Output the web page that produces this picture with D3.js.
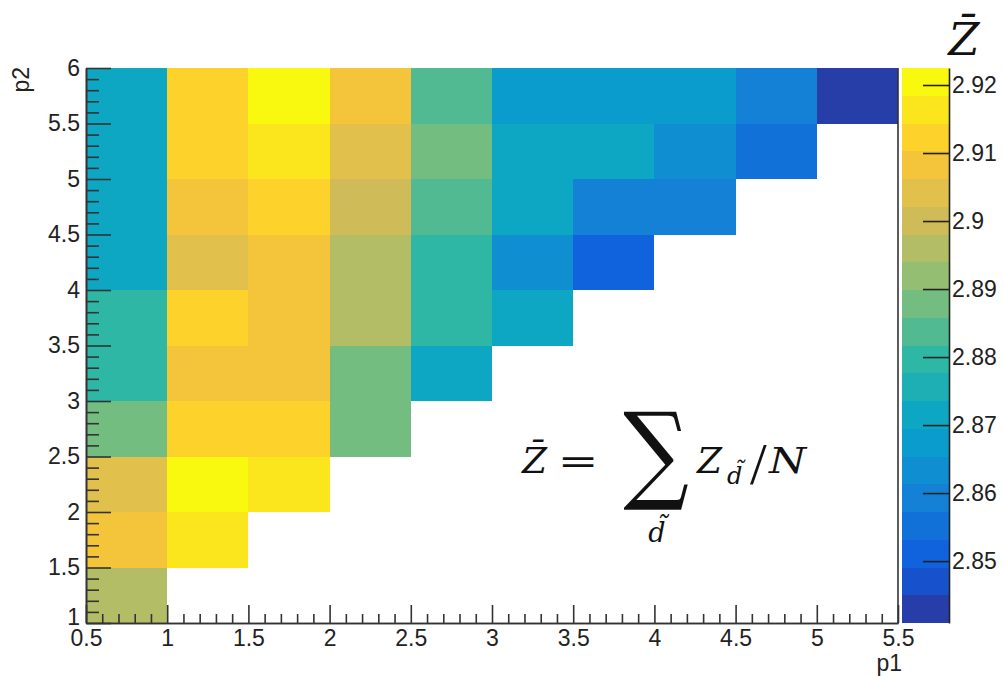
<!DOCTYPE html>
<html><head><meta charset="utf-8">
<script src="https://cdn.jsdelivr.net/npm/d3@7/dist/d3.min.js"></script>
<style>
body{margin:0;background:#fff}
svg{display:block}
.tick text{font-family:"Liberation Sans",Arial,Helvetica,sans-serif;font-size:23px;fill:#222}
</style>
</head><body>
<svg id="chart" width="1003" height="676"></svg>
<script>
// ---- data ----
const p1Bins = [0.75, 1.25, 1.75, 2.25, 2.75, 3.25, 3.75, 4.25, 4.75, 5.25];
const p2Bins = [1.25, 1.75, 2.25, 2.75, 3.25, 3.75, 4.25, 4.75, 5.25, 5.75];
// mean Z per bin, one array per p1 column, listed from p2 = 1.25 up to 5.75 (null = empty)
const zP1_0_75 = [2.8960, 2.9082, 2.9041, 2.8878, 2.8797, 2.8797, 2.8715, 2.8715, 2.8715, 2.8715];
const zP1_1_25 = [null, 2.9164, 2.9205, 2.9123, 2.9082, 2.9123, 2.9041, 2.9082, 2.9123, 2.9123];
const zP1_1_75 = [null, null, 2.9164, 2.9123, 2.9082, 2.9082, 2.9082, 2.9123, 2.9164, 2.9225];
const zP1_2_25 = [null, null, null, 2.8878, 2.8878, 2.8960, 2.8960, 2.9001, 2.9041, 2.9082];
const zP1_2_75 = [null, null, null, null, 2.8715, 2.8797, 2.8797, 2.8837, 2.8878, 2.8837];
const zP1_3_25 = [null, null, null, null, null, 2.8715, 2.8633, 2.8715, 2.8715, 2.8674];
const zP1_3_75 = [null, null, null, null, null, null, 2.8511, 2.8593, 2.8715, 2.8674];
const zP1_4_25 = [null, null, null, null, null, null, null, 2.8593, 2.8633, 2.8674];
const zP1_4_75 = [null, null, null, null, null, null, null, null, 2.8552, 2.8593];
const zP1_5_25 = [null, null, null, null, null, null, null, null, null, 2.8409];
const zColumns = [zP1_0_75, zP1_1_25, zP1_1_75, zP1_2_25, zP1_2_75, zP1_3_25, zP1_3_75, zP1_4_25, zP1_4_75, zP1_5_25];
const xTicks = [0.5, 1, 1.5, 2, 2.5, 3, 3.5, 4, 4.5, 5, 5.5];
const yTicks = [1, 1.5, 2, 2.5, 3, 3.5, 4, 4.5, 5, 5.5, 6];
const zTicks = [2.85, 2.86, 2.87, 2.88, 2.89, 2.9, 2.91, 2.92];
const nContours = 20;
const binHalf = 0.25;

// ---- palette (ROOT kBird) ----
const birdStops = [0, 0.125, 0.25, 0.375, 0.5, 0.625, 0.75, 0.875, 1];
const birdR = [0.2082, 0.0592, 0.0780, 0.0232, 0.1802, 0.5301, 0.8186, 0.9956, 0.9764];
const birdG = [0.1664, 0.3599, 0.5041, 0.6419, 0.7178, 0.7492, 0.7328, 0.7862, 0.9832];
const birdB = [0.5293, 0.8684, 0.8385, 0.7914, 0.6425, 0.4662, 0.3499, 0.1968, 0.0539];
function bird(p) {
  const r = d3.scaleLinear(birdStops, birdR).clamp(true)(p);
  const g = d3.scaleLinear(birdStops, birdG).clamp(true)(p);
  const b = d3.scaleLinear(birdStops, birdB).clamp(true)(p);
  return d3.rgb(r * 255, g * 255, b * 255).formatHex();
}
const bandColors = d3.range(nContours).map(i => bird(Math.floor((i + 0.99) * 255 / nContours) / 255));

// ---- layout ----
const svg = d3.select("#chart");
const L = 86, R = 898, T = 68, B = 623;
const x = d3.scaleLinear([0.5, 5.5], [L, R]);
const y = d3.scaleLinear([1, 6], [B, T]);

const cells = [];
zColumns.forEach((col, i) => col.forEach((z, j) => { if (z !== null) cells.push({p1: p1Bins[i], p2: p2Bins[j], z}); }));
const zExtent = d3.extent(cells, d => d.z);
const color = d3.scaleQuantize().domain(zExtent).range(bandColors);

svg.append("g").selectAll("rect").data(cells).join("rect")
  .attr("x", d => x(d.p1 - binHalf))
  .attr("y", d => y(d.p2 + binHalf))
  .attr("width", d => x(d.p1 + binHalf) - x(d.p1 - binHalf))
  .attr("height", d => y(d.p2 - binHalf) - y(d.p2 + binHalf))
  .attr("fill", d => color(d.z))
  .attr("shape-rendering", "crispEdges");

// frame right edge
svg.append("line").attr("x1", R).attr("x2", R).attr("y1", T).attr("y2", B)
  .attr("stroke", "#333").attr("stroke-width", 1.6);

const minorX = d3.range(5, 56).map(v => v / 10).filter(v => Math.round(v * 10) % 5 !== 0);
const minorY = d3.range(10, 61).map(v => v / 10).filter(v => Math.round(v * 10) % 5 !== 0);
const fmt = d => String(d);

// x axis
const gx = svg.append("g").attr("transform", `translate(0,${B})`);
gx.call(d3.axisBottom(x).tickValues(xTicks).tickFormat(fmt).tickSizeInner(-18).tickSizeOuter(0).tickPadding(7));
gx.append("g").call(d3.axisBottom(x).tickValues(minorX).tickFormat("").tickSizeInner(-9).tickSizeOuter(0));
// y axis
const gy = svg.append("g").attr("transform", `translate(${L},0)`);
gy.call(d3.axisLeft(y).tickValues(yTicks).tickFormat(fmt).tickSizeInner(-25).tickSizeOuter(0).tickPadding(6));
gy.append("g").call(d3.axisLeft(y).tickValues(minorY).tickFormat("").tickSizeInner(-13).tickSizeOuter(0));
gy.selectAll(".tick text").filter(d => d === 1).attr("dy", "0.05em");
svg.selectAll(".domain, .tick line").attr("stroke", "#333").attr("stroke-width", 1.6);

// axis titles
svg.append("text").attr("x", 902).attr("y", 671).attr("text-anchor", "end")
  .attr("font-family", "Liberation Sans, Arial, sans-serif").attr("font-size", 23).attr("fill", "#222").text("p1");
svg.append("text").attr("transform", "translate(29,67) rotate(-90)").attr("text-anchor", "end")
  .attr("font-family", "Liberation Sans, Arial, sans-serif").attr("font-size", 23).attr("fill", "#222").text("p2");

// ---- colour bar ----
const CL = 902, CR = 949;
const zy = d3.scaleLinear(zExtent, [B, T]);
const bandEdges = [zExtent[0], ...color.thresholds(), zExtent[1]];
svg.append("g").selectAll("rect").data(bandColors).join("rect")
  .attr("x", CL).attr("width", CR - CL)
  .attr("y", (c, i) => zy(bandEdges[i + 1]))
  .attr("height", (c, i) => zy(bandEdges[i]) - zy(bandEdges[i + 1]))
  .attr("fill", c => c).attr("shape-rendering", "crispEdges");
const gz = svg.append("g").attr("transform", `translate(${CR},0)`);
gz.call(d3.axisRight(zy).tickValues(zTicks).tickFormat(fmt).tickSizeInner(-26).tickSizeOuter(0).tickPadding(3));
gz.selectAll(".domain, .tick line").attr("stroke", "#222").attr("stroke-width", 1.6);

// colour bar title
svg.append("text").attr("x", 964).attr("y", 55).attr("text-anchor", "middle")
  .attr("font-family", "DejaVu Serif, serif").attr("font-style", "italic").attr("font-size", 45).attr("fill", "#111")
  .text("Z\u0304");

// ---- formula ----
const ff = "DejaVu Serif, serif";
const fg = svg.append("g").attr("fill", "#111").attr("font-family", ff).attr("font-style", "italic");
fg.append("text").attr("x", 522).attr("y", 473).attr("font-size", 36).text("Z\u0304");
fg.append("text").attr("x", 578).attr("y", 473).attr("font-size", 36).attr("font-style", "normal")
  .attr("text-anchor", "middle").attr("transform", "translate(578,0) scale(1.35,1) translate(-578,0)").text("=");
fg.append("text").attr("x", 656).attr("y", 491).attr("font-size", 92).attr("font-style", "normal")
  .attr("text-anchor", "middle").attr("transform", "translate(0,503) scale(1,1.17) translate(0,-503)").text("\u2211");
fg.append("text").attr("x", 657).attr("y", 542).attr("font-size", 27).attr("text-anchor", "middle").text("d\u0303");
fg.append("text").attr("x", 697).attr("y", 473).attr("font-size", 36).text("Z");
fg.append("text").attr("x", 727).attr("y", 484).attr("font-size", 24).text("d\u0303");
fg.append("text").attr("x", 750).attr("y", 484).attr("font-size", 60).attr("font-family", "Liberation Serif, serif").attr("font-style", "normal").text("/");
fg.append("text").attr("x", 769).attr("y", 473).attr("font-size", 36)
  .attr("transform", "translate(769,0) scale(1.18,1) translate(-769,0)").text("N");
</script>
</body></html>
